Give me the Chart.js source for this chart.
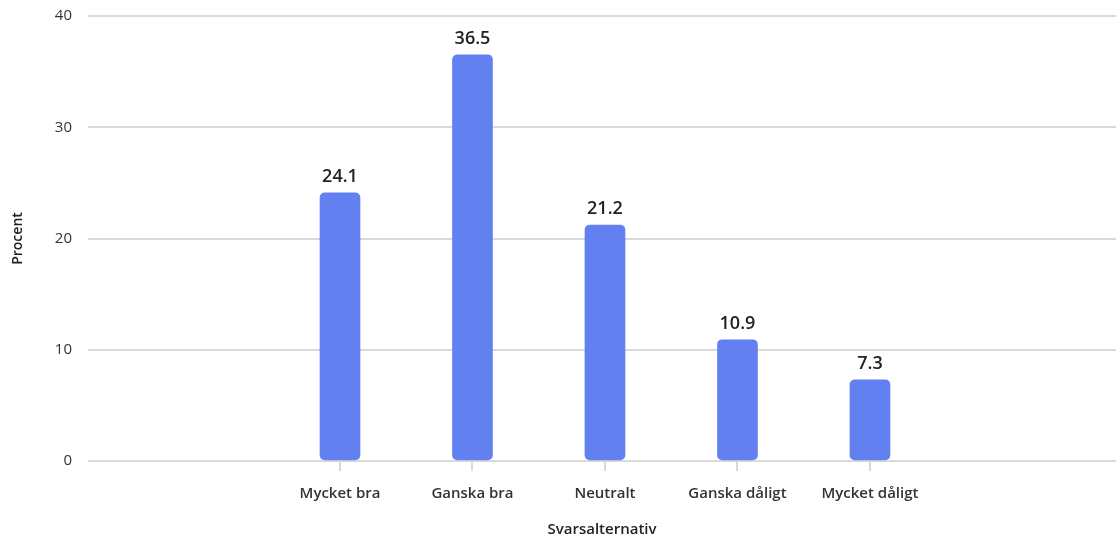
<!DOCTYPE html>
<html>
<head>
<meta charset="utf-8">
<script src="https://cdn.jsdelivr.net/npm/chart.js@4/dist/chart.umd.min.js"></script>
<style>
  html, body { margin: 0; padding: 0; background: #fff; }
  #wrap { width: 1116px; height: 539px; }
</style>
</head>
<body>
<div id="wrap"><canvas id="chart"></canvas></div>
<script>
const categories = ["Mycket bra", "Ganska bra", "Neutralt", "Ganska dåligt", "Mycket dåligt"];
const values = [24.1, 36.5, 21.2, 10.9, 7.3];
const yTicks = [0, 10, 20, 30, 40];

const FONT = "'Open Sans', 'Noto Sans', sans-serif";

// value labels above each bar
const barLabels = {
  id: "barLabels",
  afterDatasetsDraw(chart) {
    const ctx = chart.ctx;
    const meta = chart.getDatasetMeta(0);
    ctx.save();
    ctx.font = "600 18px " + FONT;
    ctx.fillStyle = "#222";
    ctx.textAlign = "center";
    ctx.textBaseline = "bottom";
    meta.data.forEach((bar, i) => {
      ctx.fillText(values[i].toFixed(1), bar.x, bar.y - 7);
    });
    ctx.restore();
  },
};

new Chart(document.getElementById("chart"), {
  type: "bar",
  data: {
    datasets: [{
      data: values.map((v, i) => ({ x: i, y: v })),
      backgroundColor: "#6380f0",
      borderRadius: 5,
      borderSkipped: false,
      barThickness: 40,
    }],
  },
  options: {
    responsive: true,
    maintainAspectRatio: false,
    animation: false,
    layout: { padding: 0 },
    plugins: { legend: { display: false }, tooltip: { enabled: false } },
    scales: {
      x: {
        type: "linear",
        min: -1.902,
        max: 5.857,
        offset: false,
        afterBuildTicks: (s) => { s.ticks = categories.map((c, i) => ({ value: i })); },
        afterFit: (s) => { s.height = 78; },
        ticks: {
          callback: (v) => categories[v] ?? "",
          color: "#333",
          font: { family: FONT, size: 15, weight: "600" },
          padding: 14,
          maxRotation: 0,
          autoSkip: false,
        },
        grid: { offset: false, drawOnChartArea: false, tickLength: 10, color: "#d9d9d9", lineWidth: 2 },
        border: { display: false },
        title: {
          display: true,
          text: "Svarsalternativ",
          color: "#222",
          font: { family: FONT, size: 15, weight: "600" },
          padding: { top: 12, bottom: 0 },
        },
      },
      y: {
        min: 0,
        max: 40,
        afterBuildTicks: (s) => { s.ticks = yTicks.map((v) => ({ value: v })); },
        afterFit: (s) => { s.width = 88; },
        ticks: {
          color: "#333",
          font: { family: FONT, size: 15 },
          padding: 7,
        },
        grid: { color: "#d9d9d9", lineWidth: 2, drawTicks: true, tickLength: 9, tickColor: "rgba(0,0,0,0)" },
        border: { display: false },
        title: {
          display: true,
          text: "Procent",
          color: "#222",
          font: { family: FONT, size: 14, weight: "600" },
          padding: { top: 10, bottom: 0 },
        },
      },
    },
  },
  plugins: [barLabels],
});
</script>
</body>
</html>
